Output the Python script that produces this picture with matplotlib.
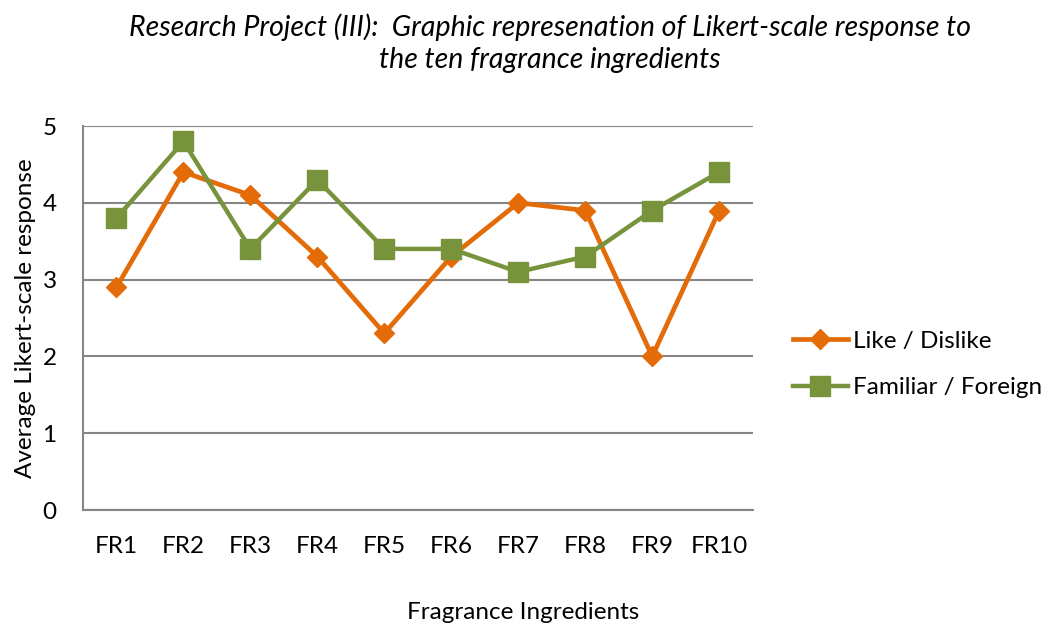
import matplotlib.pyplot as plt

# Average Likert-scale responses per fragrance ingredient
ingredients = ['FR1', 'FR2', 'FR3', 'FR4', 'FR5', 'FR6', 'FR7', 'FR8', 'FR9', 'FR10']
like_dislike = [2.9, 4.4, 4.1, 3.3, 2.3, 3.3, 4.0, 3.9, 2.0, 3.9]
familiar_foreign = [3.8, 4.8, 3.4, 4.3, 3.4, 3.4, 3.1, 3.3, 3.9, 4.4]

plt.rcParams['font.family'] = ['Lato', 'DejaVu Sans']

fig = plt.figure(figsize=(10.53, 6.27), dpi=100)
ax = fig.add_axes([0.0788, 0.1866, 0.636, 0.6124])

x = range(len(ingredients))
ax.plot(x, like_dislike, color='#E36C09', linewidth=3.4, marker='D', markersize=10.5,
        label='Like / Dislike', zorder=3)
ax.plot(x, familiar_foreign, color='#77933C', linewidth=3.2, marker='s', markersize=14,
        label='Familiar / Foreign', zorder=3)

ax.set_xlim(-0.5, len(ingredients) - 0.5)
ax.set_ylim(0, 5)
ax.set_yticks(range(6))
ax.set_xticks(list(x))
ax.set_xticklabels(ingredients)
ax.tick_params(axis='both', length=0, labelsize=17.5, colors='black')
ax.tick_params(axis='y', pad=19)
ax.tick_params(axis='x', pad=19)
ax.yaxis.grid(True, color='#868686', linewidth=1.5)
ax.set_axisbelow(True)
for side in ['top', 'right']:
    ax.spines[side].set_visible(False)
ax.spines['left'].set_color('#868686')
ax.spines['left'].set_linewidth(1.5)
ax.spines['bottom'].set_color('#868686')
ax.spines['bottom'].set_linewidth(1.5)

ax.set_ylabel('Average Likert-scale response', fontsize=17.5, labelpad=5)
fig.text(0.497, 0.006, 'Fragrance Ingredients', ha='center', va='bottom', fontsize=17.5)

fig.text(0.522, 0.883, 'Research Project (III):  Graphic represenation of Likert-scale response to\nthe ten fragrance ingredients',
         ha='center', va='bottom', fontsize=20.5, style='italic', linespacing=1.3)

ax.legend(loc='center left', bbox_to_anchor=(1.06, 0.379), frameon=False,
          fontsize=17.5, handlelength=2.26, handletextpad=0.2, labelspacing=1.05,
          borderaxespad=0, borderpad=0)

fig.savefig('out.png', dpi=100)
